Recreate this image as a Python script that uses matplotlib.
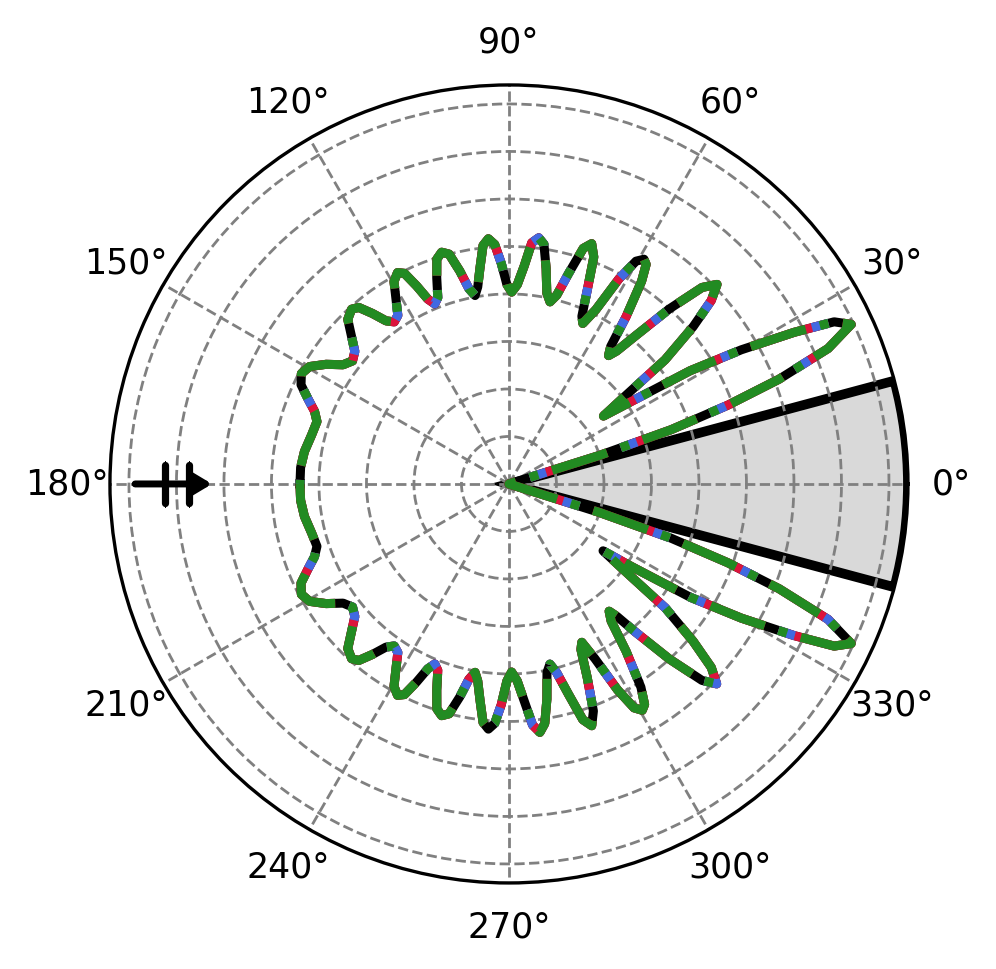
import numpy as np
import matplotlib
matplotlib.use("Agg")
import matplotlib.pyplot as plt
from matplotlib.markers import MarkerStyle

# pattern (degrees, radius), upper half 0..180
theta_upper = [0, 16, 17.5, 18.5, 19.8, 21.2, 23, 25, 26.5, 28, 30, 32, 34, 35.7,
               37, 38.5, 40.5, 42.2, 43.8, 45.5, 47.5, 49.5, 51, 52.2,
               53.5, 55, 56.8, 58, 59, 60.3, 61.8, 63.5, 65.3,
               66.5, 68, 69.5, 71, 72.5, 74.2, 75.8, 77.3,
               78.8, 80.2, 81.7, 83.1, 84.6, 86, 87.6, 89.2,
               90.6, 92, 93.4, 94.8, 96.2, 97.6, 99, 100.2,
               101.6, 103, 104.6, 106.2, 107.8, 109.3, 110.9, 112.4,
               113.7, 115, 116.4, 117.8, 119.6, 121.5, 123.4, 125.3,
               127, 128.7, 130.4, 132, 134.4, 136.8, 139.3, 141.8,
               144.3, 146.8, 149.5, 152, 154.5, 157, 159.5, 162,
               166, 171, 175.5, 180]
r_upper = [0, 0, 0.20, 0.36, 0.49, 0.61, 0.73, 0.795, 0.765, 0.68, 0.565, 0.45, 0.31, 0.245,
           0.30, 0.42, 0.51, 0.575, 0.607, 0.58, 0.50, 0.41, 0.36, 0.342,
           0.36, 0.43, 0.51, 0.545, 0.552, 0.54, 0.49, 0.41, 0.372,
           0.385, 0.44, 0.51, 0.535, 0.52, 0.46, 0.41, 0.393,
           0.41, 0.46, 0.51, 0.522, 0.51, 0.46, 0.42, 0.404,
           0.42, 0.465, 0.505, 0.518, 0.505, 0.46, 0.42, 0.403,
           0.42, 0.46, 0.50, 0.508, 0.497, 0.46, 0.42, 0.41,
           0.425, 0.46, 0.495, 0.503, 0.49, 0.455, 0.425, 0.418,
           0.43, 0.46, 0.488, 0.495, 0.485, 0.455, 0.428, 0.419,
           0.43, 0.46, 0.487, 0.495, 0.485, 0.46, 0.437, 0.425,
           0.428, 0.436, 0.44, 0.44]

# lower half 0..-180
theta_lower = [0, -16, -17.5, -18.5, -19.8, -21.2, -23, -25, -26.5, -28, -30, -32, -34, -35.4,
               -36.8, -38.4, -40.5, -42.2, -43.9, -45.5, -47.5, -49.5, -50.8, -51.8,
               -53.3, -55, -57, -58.4, -59.5, -60.8, -62.2, -63.8, -65.3,
               -66.5, -68, -69.6, -71.1, -72.6, -74.2, -75.8, -77.2,
               -78.6, -80, -81.5, -82.9, -84.4, -85.9, -87.6, -89.2,
               -90.6, -92, -93.4, -94.8, -96.2, -97.6, -99, -100.2,
               -101.6, -103, -104.6, -106.2, -107.8, -109.3, -110.9, -112.4,
               -113.7, -115, -116.4, -117.8, -119.6, -121.5, -123.4, -125.3,
               -127, -128.7, -130.4, -132, -134.4, -136.8, -139.3, -141.8,
               -144.3, -146.8, -149.5, -152, -154.5, -157, -159.5, -162,
               -166, -171, -175.5, -180]
r_lower = [0, 0, 0.20, 0.36, 0.49, 0.61, 0.73, 0.795, 0.765, 0.68, 0.565, 0.45, 0.31, 0.243,
           0.30, 0.42, 0.51, 0.575, 0.607, 0.58, 0.50, 0.41, 0.36, 0.341,
           0.36, 0.43, 0.51, 0.545, 0.553, 0.54, 0.49, 0.41, 0.367,
           0.38, 0.44, 0.51, 0.538, 0.52, 0.46, 0.41, 0.389,
           0.405, 0.46, 0.51, 0.527, 0.51, 0.46, 0.415, 0.396,
           0.415, 0.465, 0.505, 0.518, 0.505, 0.46, 0.42, 0.403,
           0.42, 0.46, 0.50, 0.508, 0.497, 0.46, 0.42, 0.41,
           0.425, 0.46, 0.495, 0.503, 0.49, 0.455, 0.425, 0.418,
           0.43, 0.46, 0.488, 0.495, 0.485, 0.455, 0.428, 0.419,
           0.43, 0.46, 0.487, 0.495, 0.485, 0.46, 0.437, 0.425,
           0.428, 0.436, 0.44, 0.44]

series_colors = ['black', 'crimson', 'royalblue', 'forestgreen']
# dash patterns (in line widths) sharing one period so the colours interleave
series_styles = ['-', (2.6, (9.0, 1.6)), (2.6, (1.9, 8.7)), (0, (6.4, 1.6, 1.0, 1.6))]

sector_lo, sector_hi = -15, 15          # shaded sector, degrees
r_max = 0.84
r_ticks = [0.1, 0.2, 0.3, 0.4, 0.5, 0.6, 0.7, 0.8]
theta_ticks = list(range(0, 360, 30))

arrow_angle = 180
arrow_from, arrow_to = 0.787, 0.625
arrow_bars = [0.724, 0.674]

theta = np.deg2rad(theta_lower[::-1] + theta_upper[1:])
r = np.array(r_lower[::-1] + r_upper[1:])

fig = plt.figure(figsize=(4.98, 4.85), dpi=200)
ax = fig.add_axes([0.1104, 0.0887, 0.8012, 0.8227], projection='polar')

ax.bar(np.deg2rad((sector_lo + sector_hi) / 2), r_max,
       width=np.deg2rad(sector_hi - sector_lo), bottom=0,
       color='#d9d9d9', edgecolor='black', linewidth=3.5, zorder=1)

for c, ls in zip(series_colors, series_styles):
    ax.plot(theta, r, color=c, linestyle=ls, linewidth=3.25, zorder=3)

ax.annotate('', xy=(np.deg2rad(arrow_angle), arrow_to),
            xytext=(np.deg2rad(arrow_angle), arrow_from),
            arrowprops=dict(arrowstyle='-|>,head_length=0.55,head_width=0.33',
                            mutation_scale=10, lw=2.5, color='black',
                            shrinkA=0, shrinkB=0, capstyle='round'),
            zorder=5)
ax.plot(np.deg2rad([arrow_angle] * len(arrow_bars)), arrow_bars, linestyle='none',
        marker=MarkerStyle('|', capstyle='round'), markersize=14,
        markeredgewidth=2.6, color='black', zorder=5)

ax.set_rlim(0, r_max)
ax.set_rticks(r_ticks)
ax.set_yticklabels([])
ax.set_thetagrids(theta_ticks)
ax.tick_params(axis='x', labelsize=12.5, pad=5)
ax.grid(True, color='gray', linestyle='--', linewidth=1.0)
ax.spines['polar'].set_linewidth(1.2)

fig.savefig('out.png', dpi=200)
